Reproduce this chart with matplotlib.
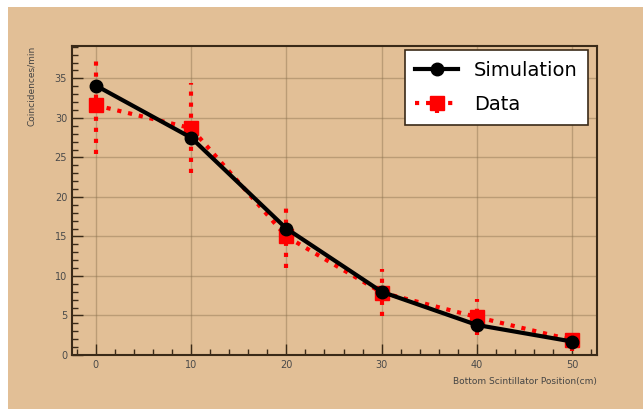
import numpy as np
import matplotlib.pyplot as plt
from matplotlib.patches import Rectangle
from matplotlib.ticker import MultipleLocator

# positions of the bottom scintillator (cm)
positions = [0, 10, 20, 30, 40, 50]

# coincidences per minute
sim_rate = [34.1, 27.5, 16.0, 8.0, 3.8, 1.7]
data_rate = [31.6, 28.7, 15.0, 7.9, 4.8, 1.9]
data_err = [6.2, 5.7, 4.0, 3.0, 2.3, 1.4]

bg = "#e2bf96"
grid_col = "#8c7350"
frame_col = "#3a2a18"

fig = plt.figure(figsize=(6.43, 4.09), dpi=100)
fig.patch.set_facecolor("white")
fig.add_artist(Rectangle((8 / 643, 0), 1 - 8 / 643, 1 - 7 / 409,
                         transform=fig.transFigure, facecolor=bg,
                         edgecolor="none", zorder=-10))

ax = fig.add_axes([72 / 643, 54 / 409, 525 / 643, 309 / 409])
ax.set_zorder(5)
ax.set_facecolor(bg)

eb = ax.errorbar(positions, data_rate, yerr=data_err, color="red",
                 linestyle=":", linewidth=3, marker="s", markersize=10,
                 elinewidth=3, capsize=0, label="Data", zorder=3)
eb[2][0].set_linestyle(":")
sim, = ax.plot(positions, sim_rate, color="black", linewidth=3, marker="o",
               markersize=9, label="Simulation", zorder=4)

ax.set_xlim(-2.5, 52.6)
ax.set_ylim(0, 39.1)
ax.xaxis.set_major_locator(MultipleLocator(10))
ax.xaxis.set_minor_locator(MultipleLocator(2))
ax.yaxis.set_major_locator(MultipleLocator(5))
ax.yaxis.set_minor_locator(MultipleLocator(1))
ax.grid(True, which="major", color=grid_col, linewidth=1, alpha=0.45)
ax.tick_params(which="both", direction="in", colors=frame_col,
               labelcolor="#4a4a4a", labelsize=7, width=1)
ax.tick_params(which="major", length=8)
ax.tick_params(which="minor", length=4)
for s in ax.spines.values():
    s.set_color(frame_col)
    s.set_linewidth(1.5)

ax.set_ylabel("Coincidences/min", fontsize=6.5, color="#444444")
ax.yaxis.set_label_coords(-0.068, 1.0)
ax.yaxis.label.set_horizontalalignment("right")
ax.set_xlabel("Bottom Scintillator Position(cm)", fontsize=6.5, color="#444444")
ax.xaxis.set_label_coords(1.0, -0.07)
ax.xaxis.label.set_horizontalalignment("right")

leg = ax.legend([sim, eb], ["Simulation", "Data"], loc="upper right",
                bbox_to_anchor=(0.983, 0.987), borderaxespad=0, fontsize=14,
                frameon=True, fancybox=False, edgecolor=frame_col,
                framealpha=1, handlelength=2.2, borderpad=0.55,
                labelspacing=0.8)
leg.get_frame().set_linewidth(1.2)

fig.savefig("out.png", dpi=100, facecolor=fig.get_facecolor())
